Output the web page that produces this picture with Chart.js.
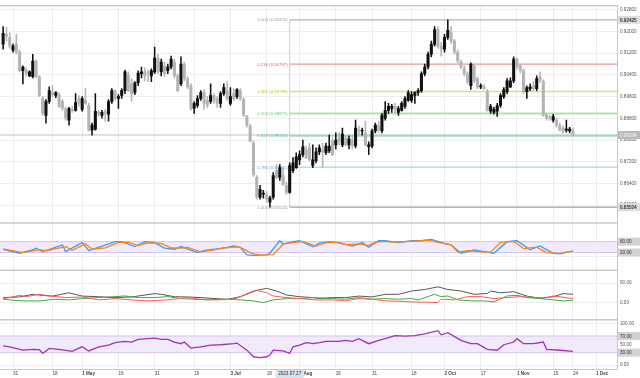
<!DOCTYPE html>
<html>
<head>
<meta charset="utf-8">
<script src="https://cdn.jsdelivr.net/npm/chart.js@4.4.0/dist/chart.umd.min.js"></script>
<style>
  html, body { margin: 0; padding: 0; background: #fff; }
  #wrap { width: 640px; height: 378px; }
</style>
</head>
<body>
<div id="wrap"><canvas id="chart" width="640" height="378"></canvas></div>
<script>
// Daily candles, first one sits 3 trading days before 31 Mar (day 0)
const firstDay = -3;
const opens = [0.9153,0.9189,0.9178,0.9131,0.9153,0.9124,0.9055,0.9058,0.9036,0.9033,0.9091,0.9033,0.8953,0.8891,0.8942,0.8975,0.8964,0.8967,0.8942,0.8916,
  0.8873,0.8913,0.8909,0.8953,0.8913,0.8946,0.8927,0.8836,0.8840,0.8902,0.8891,0.8906,0.8895,0.8942,0.8978,0.8953,0.8964,0.8982,0.9040,0.9007,
  0.8975,0.9011,0.9044,0.9051,0.9047,0.9036,0.9051,0.9102,0.9051,0.9073,0.9055,0.9069,0.9087,0.9036,0.9007,0.9080,0.9026,0.9000,0.8916,0.8927,
  0.8953,0.8975,0.8946,0.8942,0.8964,0.8953,0.8935,0.8971,0.8982,0.8935,0.8971,0.8960,0.8982,0.8949,0.8887,0.8851,0.8789,0.8662,0.8589,0.8600,
  0.8600,0.8571,0.8589,0.8687,0.8662,0.8669,0.8633,0.8607,0.8687,0.8698,0.8727,0.8746,0.8764,0.8771,0.8706,0.8724,0.8756,0.8764,0.8753,0.8760,
  0.8796,0.8782,0.8807,0.8782,0.8807,0.8782,0.8800,0.8778,0.8836,0.8833,0.8826,0.8775,0.8778,0.8833,0.8851,0.8833,0.8880,0.8909,0.8916,0.8924,
  0.8902,0.8909,0.8924,0.8946,0.8946,0.8964,0.8975,0.8982,0.9044,0.9069,0.9116,0.9153,0.9207,0.9146,0.9135,0.9178,0.9196,0.9164,0.9124,0.9087,
  0.9062,0.9044,0.9000,0.9073,0.9026,0.8996,0.8996,0.8978,0.8906,0.8902,0.8906,0.8927,0.8960,0.8978,0.8996,0.9018,0.9098,0.9073,0.9055,0.8978,
  0.8989,0.9000,0.8989,0.9033,0.9015,0.8891,0.8884,0.8873,0.8873,0.8855,0.8844,0.8836,0.8833,0.8836];
const highs = [0.9218,0.9215,0.9196,0.9153,0.9189,0.9131,0.9073,0.9066,0.9055,0.9116,0.9095,0.9036,0.8960,0.8949,0.8996,0.9000,0.8978,0.8975,0.8949,0.8920,
  0.8920,0.8924,0.8971,0.8964,0.8960,0.8989,0.8935,0.8862,0.8971,0.8909,0.8909,0.8913,0.8949,0.8989,0.8986,0.8967,0.8989,0.9058,0.9051,0.9026,
  0.9015,0.9055,0.9069,0.9066,0.9058,0.9062,0.9142,0.9116,0.9098,0.9087,0.9080,0.9109,0.9098,0.9044,0.9106,0.9087,0.9033,0.9007,0.8942,0.8964,
  0.8982,0.8986,0.8960,0.9007,0.8971,0.8960,0.8978,0.9007,0.9015,0.8993,0.8989,0.8989,0.8989,0.8956,0.8891,0.8858,0.8796,0.8669,0.8633,0.8615,
  0.8611,0.8593,0.8680,0.8709,0.8709,0.8698,0.8644,0.8716,0.8735,0.8753,0.8760,0.8800,0.8778,0.8789,0.8782,0.8771,0.8782,0.8789,0.8789,0.8818,
  0.8807,0.8826,0.8826,0.8844,0.8818,0.8815,0.8815,0.8873,0.8851,0.8844,0.8869,0.8793,0.8840,0.8862,0.8869,0.8898,0.8942,0.8935,0.8931,0.8935,
  0.8924,0.8942,0.8960,0.8982,0.8978,0.8978,0.8989,0.9051,0.9080,0.9124,0.9164,0.9218,0.9218,0.9160,0.9189,0.92425,0.9218,0.9171,0.9131,0.9095,
  0.9073,0.9051,0.9084,0.9080,0.9033,0.9007,0.9004,0.8986,0.8931,0.8920,0.8935,0.8971,0.8993,0.9026,0.9029,0.9106,0.9102,0.9080,0.9062,0.9000,
  0.9007,0.9015,0.9036,0.9051,0.9022,0.8898,0.8891,0.8895,0.8880,0.8862,0.8851,0.8873,0.8847,0.8844];
const lows = [0.9135,0.9164,0.9138,0.9124,0.9116,0.9051,0.9007,0.9036,0.9033,0.9029,0.9029,0.8960,0.8891,0.8862,0.8935,0.8960,0.8956,0.8920,0.8909,0.8873,
  0.8855,0.8902,0.8906,0.8924,0.8906,0.8931,0.8833,0.8818,0.8836,0.8887,0.8880,0.8869,0.8869,0.8935,0.8946,0.8916,0.8953,0.8971,0.8978,0.8942,
  0.8967,0.9000,0.9029,0.9018,0.9015,0.9015,0.9044,0.9044,0.9036,0.9033,0.9044,0.9062,0.9029,0.8978,0.9000,0.9018,0.8989,0.8909,0.8898,0.8920,
  0.8946,0.8913,0.8920,0.8935,0.8935,0.8920,0.8920,0.8964,0.8946,0.8927,0.8946,0.8953,0.8946,0.8887,0.8847,0.8793,0.8666,0.8582,0.8582,0.8586,
  0.8571,0.85524,0.8582,0.8658,0.8651,0.8633,0.8600,0.8604,0.8680,0.8695,0.8709,0.8738,0.8731,0.8724,0.8698,0.8716,0.8746,0.8698,0.8746,0.8753,
  0.8742,0.8767,0.8782,0.8775,0.8778,0.8767,0.8767,0.8771,0.8818,0.8818,0.8778,0.8746,0.8771,0.8826,0.8829,0.8826,0.8873,0.8898,0.8902,0.8898,
  0.8891,0.8906,0.8916,0.8942,0.8938,0.8935,0.8964,0.8975,0.9036,0.9062,0.9106,0.9146,0.9138,0.9109,0.9124,0.9171,0.9156,0.9116,0.9084,0.9062,
  0.9036,0.9007,0.8986,0.9011,0.8989,0.8989,0.8986,0.8906,0.8898,0.8895,0.8887,0.8920,0.8953,0.8971,0.8993,0.9011,0.9062,0.9047,0.8971,0.8953,
  0.8982,0.8982,0.8982,0.9011,0.8887,0.8873,0.8873,0.8866,0.8847,0.8833,0.8826,0.8829,0.8826,0.8815];
const closes = [0.9193,0.9182,0.9146,0.9146,0.9124,0.9055,0.9069,0.9044,0.9051,0.9091,0.9033,0.8964,0.8898,0.8942,0.8982,0.8967,0.8975,0.8924,0.8916,0.8880,
  0.8916,0.8909,0.8938,0.8935,0.8953,0.8935,0.8836,0.8855,0.8906,0.8895,0.8902,0.8895,0.8942,0.8982,0.8953,0.8960,0.8982,0.9051,0.8982,0.8971,
  0.9011,0.9047,0.9051,0.9036,0.9044,0.9055,0.9102,0.9055,0.9087,0.9044,0.9069,0.9098,0.9036,0.8982,0.9080,0.9026,0.8996,0.8916,0.8935,0.8953,
  0.8975,0.8935,0.8927,0.8964,0.8946,0.8935,0.8971,0.8993,0.8953,0.8960,0.8953,0.8986,0.8953,0.8891,0.8855,0.8796,0.8673,0.8589,0.8618,0.8604,
  0.8582,0.8586,0.8669,0.8662,0.8698,0.8636,0.8607,0.8706,0.8716,0.8738,0.8746,0.8775,0.8735,0.8727,0.8727,0.8756,0.8771,0.8756,0.8778,0.8778,
  0.8746,0.8800,0.8796,0.8822,0.8782,0.8804,0.8778,0.8844,0.8833,0.8836,0.8782,0.8782,0.8833,0.8855,0.8836,0.8891,0.8909,0.8924,0.8924,0.8913,
  0.8916,0.8935,0.8953,0.8975,0.8967,0.8975,0.8982,0.9044,0.9069,0.9116,0.9153,0.9207,0.9146,0.9135,0.9178,0.9204,0.9164,0.9124,0.9091,0.9069,
  0.9044,0.9015,0.9080,0.9018,0.8996,0.9000,0.8989,0.8909,0.8924,0.8913,0.8927,0.8964,0.8986,0.9018,0.9018,0.9098,0.9069,0.9055,0.8978,0.8993,
  0.8996,0.8989,0.9026,0.9018,0.8891,0.8880,0.8880,0.8887,0.8855,0.8836,0.8833,0.8840,0.8840,0.88184];

// x axis: trading-day index of each date label
const tickDays = [0, 12, 21, 32, 43, 55, 66, 77, 87, 98, 109, 121, 131, 142, 153, 164, 170, 177];
const tickLabels = ['31', '18', '1 May', '16', '31', '16', '3 Jul', '18', '1 Aug', '16', '31', '18', '2 Oct', '17', '1 Nov', '16', '24', '1 Dec'];
const boldLabels = ['1 May', '3 Jul', '1 Aug', '2 Oct', '1 Nov', '1 Dec'];
const priceTicks = [0.928, 0.920, 0.912, 0.904, 0.896, 0.888, 0.880, 0.872, 0.864, 0.856];

// fibonacci retracement drawn from 27 Jul
const fibAnchorDay = 84;
const fibAnchorLabel = '2023.07.27';
const fibRatios = [0, 0.236, 0.382, 0.5, 0.618, 0.786, 1];
const fibPrices = [0.92425, 0.90797, 0.89789, 0.88975, 0.88160, 0.87001, 0.85524];
const lastPrice = 0.88184;

// stochastic (%K blue, %D orange)
const stochKDays = [-3,2,6,7,9,15,16,21,23,26,31,33,37,40,43,46,49,51,56,58,61,65,67,69,71,73,77,78,81,82,85,87,91,93,96,99,103,106,108,111,113,117,121,124,127,131,133,136,140,143,146,150,153,157,160,164,166,169,170];
const stochK = [38,16,35,44,25,62,25,75,31,49,80,80,53,80,75,44,38,53,20,31,38,49,56,49,7,4,7,16,85,67,80,85,52,72,80,75,56,75,49,85,85,75,85,85,93,71,62,16,35,25,16,80,85,35,56,16,13,25,29];
const stochDDays = [-3,3,8,10,16,18,22,24,28,32,35,38,41,45,48,51,53,57,60,64,68,70,72,75,79,82,84,88,92,95,98,101,105,108,110,113,115,119,123,126,129,133,135,138,142,145,148,152,155,159,162,166,168,170];
const stochD = [40,20,36,30,52,32,68,38,46,76,78,58,74,70,46,45,48,24,32,44,52,40,18,6,8,66,72,82,56,74,76,64,68,58,78,82,78,80,84,88,76,62,22,30,24,22,76,82,42,50,20,15,22,26];
const stochBand = [20, 80];

// DMI: ADX grey, +DI green, -DI red
const adxDays = [-3,2,6,9,12,17,21,26,31,36,43,45,49,53,57,61,65,69,73,77,80,83,87,91,93,97,101,105,109,113,117,121,125,129,132,136,140,144,145,148,152,156,160,164,167,170];
const adx = [24,27,39,34,31,46,31,28,24,27,42,39,28,27,24,20,16,28,54,66,54,36,28,24,20,24,24,31,27,39,39,54,61,73,61,54,39,43,54,46,51,31,21,28,42,39];
const plusDays = [-3,-1,3,8,13,17,21,26,31,34,38,43,47,51,55,59,65,69,73,76,79,83,87,91,97,101,105,109,113,117,121,123,128,130,132,135,139,143,146,150,153,156,160,164,167,170];
const plusDI = [16.5,13.5,9,9,16.5,13.5,19.5,24,28.5,31.5,24,24,28.5,19.5,16.5,13.5,16.5,13.5,9,1.5,13.5,19.5,19.5,24,19.5,16.5,24,16.5,19.5,16.5,19.5,13.5,39,28.5,31.5,13.5,9,9,4.5,31.5,34.5,24,19.5,13.5,9,12];
const minusDays = [-3,-1,2,4,8,11,16,21,26,31,36,41,47,53,57,62,67,71,74,77,79,83,87,92,97,101,105,109,113,117,121,125,129,130,134,138,142,146,150,154,158,162,164,170];
const minusDI = [19.5,24,34.5,28.5,39,31.5,24,27,13.5,19.5,13.5,9,13.5,24,16.5,13.5,16.5,39,57,46.5,31.5,24,19.5,13.5,13.5,9,19.5,16.5,9,7.5,4.5,3,1.5,16.5,13.5,28.5,28.5,19.5,24,28.5,24,24,31.5,19.5];

// RSI
const rsiDays = [-3,-1,3,6,8,9,11,14,18,20,21,23,26,29,31,34,36,38,43,45,47,49,51,52,54,57,60,63,67,68,71,73,75,77,78,79,82,84,85,87,89,91,93,95,99,101,103,105,108,111,113,116,119,122,125,129,130,132,136,139,141,144,147,149,152,153,155,158,161,162,166,170];
const rsi = [46,44,36,38,37,28,40,38,33,41,44,34,44,48,54,57,55.5,62,65,62,62,55.5,51.5,55.5,41,44,48,49,51.5,53,36,20,18,20,24,36,34,28,44,48,54,51.5,54,57,57,59.5,57,63.5,51.5,59.5,63.5,71,70,71,75,83,73,78,59.5,51.5,51.5,38,35.7,49,55.5,63.5,51.5,51.5,55.5,38,35.7,33];
const rsiBand = [30, 70];

const FONT = "'Liberation Sans', Arial, sans-serif";
Chart.defaults.font.family = FONT;

const fibLineColors = ['#b4b4b4', '#e89a9a', '#cfe48c', '#aee3ae', '#a0d8c8', '#a9d3ea', '#b4b4b4'];
const fibTextColors = ['#9a9a9a', '#e06262', '#a9c63c', '#6cc66c', '#4db596', '#58abdc', '#9a9a9a'];

const candleDays = opens.map((_, k) => firstDay + k);
const isUp = k => closes[k] >= opens[k];
const candleColor = c => isUp(c.dataIndex) ? '#111111' : '#b4b4b4';
const pts = (days, vals) => days.map((d, j) => ({ x: d, y: vals[j] }));

function line(yAxisID, data, color, width) {
  return { type: 'line', yAxisID, data, borderColor: color, borderWidth: width,
           pointRadius: 0, tension: 0, fill: false, order: 0 };
}

function rightTag(ctx, area, y, text, bg, fg, bold) {
  ctx.fillStyle = bg;
  ctx.fillRect(area.right + 1, y - 4, 22, 8);
  ctx.fillStyle = fg;
  ctx.font = (bold ? 'bold ' : '') + '4.6px ' + FONT;
  ctx.textAlign = 'left';
  ctx.textBaseline = 'middle';
  ctx.fillText(text, area.right + 3, y + 0.5);
}

const overlay = {
  id: 'overlay',
  beforeDatasetsDraw(chart) {
    const { ctx, chartArea: a, scales } = chart;
    const x = scales.x, ym = scales.yMain;
    ctx.save();
    // indicator bands
    [[scales.yStoch, stochBand], [scales.yRsi, rsiBand]].forEach(([s, b]) => {
      const top = s.getPixelForValue(b[1]), bot = s.getPixelForValue(b[0]);
      ctx.fillStyle = '#f1eafb';
      ctx.fillRect(a.left, top, a.right - a.left, bot - top);
      ctx.strokeStyle = '#d5c6f1';
      ctx.lineWidth = 1;
      ctx.beginPath();
      ctx.moveTo(a.left, top); ctx.lineTo(a.right, top);
      ctx.moveTo(a.left, bot); ctx.lineTo(a.right, bot);
      ctx.stroke();
    });
    // last price line
    const yl = ym.getPixelForValue(lastPrice);
    ctx.strokeStyle = '#c4c4c4';
    ctx.lineWidth = 1.2;
    ctx.beginPath(); ctx.moveTo(a.left, yl); ctx.lineTo(a.right, yl); ctx.stroke();
    // fibonacci levels
    const fx = x.getPixelForValue(fibAnchorDay);
    ctx.strokeStyle = '#b9d2de';
    ctx.lineWidth = 1;
    ctx.beginPath();
    ctx.moveTo(fx, ym.getPixelForValue(fibPrices[0]));
    ctx.lineTo(fx, ym.getPixelForValue(fibPrices[fibPrices.length - 1]));
    ctx.stroke();
    ctx.font = '4.3px ' + FONT;
    ctx.textAlign = 'right';
    ctx.textBaseline = 'middle';
    fibRatios.forEach((r, j) => {
      const y = ym.getPixelForValue(fibPrices[j]);
      ctx.strokeStyle = fibLineColors[j];
      ctx.lineWidth = (r === 0.5 || r === 0.618) ? 2 : 1.4;
      ctx.beginPath(); ctx.moveTo(fx, y); ctx.lineTo(a.right, y); ctx.stroke();
      ctx.fillStyle = fibTextColors[j];
      ctx.fillText(r.toFixed(3) + ' (' + fibPrices[j].toFixed(5) + ')', fx - 2, y + 0.3);
    });
    ctx.restore();
  },
  afterDraw(chart) {
    const { ctx, chartArea: a, scales } = chart;
    const ym = scales.yMain;
    ctx.save();
    // pane separators
    ctx.strokeStyle = '#cacaca';
    ctx.lineWidth = 1.5;
    ctx.beginPath();
    [a.top, scales.yStoch.top, scales.yDmi.top, scales.yRsi.top].forEach(y => {
      ctx.moveTo(a.left, y); ctx.lineTo(a.right, y);
    });
    ctx.stroke();
    // right-hand tags
    rightTag(ctx, a, ym.getPixelForValue(fibPrices[0]), fibPrices[0].toFixed(5), '#dcdcdc', '#333', true);
    rightTag(ctx, a, ym.getPixelForValue(fibPrices[6]), fibPrices[6].toFixed(5), '#dcdcdc', '#333', true);
    rightTag(ctx, a, ym.getPixelForValue(lastPrice), lastPrice.toFixed(5), '#b9b9b9', '#f4f4f4', false);
    stochBand.forEach(v => rightTag(ctx, a, scales.yStoch.getPixelForValue(v), v.toFixed(2), '#d2d2d2', '#333', false));
    rsiBand.forEach(v => rightTag(ctx, a, scales.yRsi.getPixelForValue(v), v.toFixed(2), '#d2d2d2', '#333', false));
    // date tag under the fib anchor
    const fx = scales.x.getPixelForValue(fibAnchorDay);
    ctx.fillStyle = '#d3e4ec';
    ctx.fillRect(fx - 14, a.bottom + 1, 28, 8);
    ctx.fillStyle = '#333';
    ctx.font = '4.6px ' + FONT;
    ctx.textAlign = 'center';
    ctx.textBaseline = 'middle';
    ctx.fillText(fibAnchorLabel, fx, a.bottom + 5.2);
    ctx.restore();
  }
};

function yAxis(weight, min, max, ticks, label) {
  return {
    type: 'linear', position: 'right', stack: 'panes', stackWeight: weight,
    min, max,
    grid: { color: '#ededed', drawTicks: false },
    border: { color: '#c8c8c8' },
    ticks: { color: '#555', padding: 3, font: { size: 4.6 }, callback: label },
    afterBuildTicks: s => { s.ticks = ticks.map(v => ({ value: v })); },
    afterFit: s => { s.width = 23; }
  };
}

function xTickFont(c) {
  const v = c && c.tick ? c.tick.value : null;
  const bold = boldLabels.includes(tickLabels[tickDays.indexOf(v)]);
  return { size: 4.6, weight: bold ? 'bold' : 'normal' };
}

new Chart(document.getElementById('chart'), {
  type: 'bar',
  data: {
    datasets: [
      { label: 'wick', yAxisID: 'yMain', data: candleDays.map((d, k) => ({ x: d, y: [lows[k], highs[k]] })),
        backgroundColor: candleColor, barThickness: 0.9, grouped: false, order: 3 },
      { label: 'body', yAxisID: 'yMain', data: candleDays.map((d, k) => ({ x: d, y: [opens[k], closes[k]] })),
        backgroundColor: candleColor, barThickness: 2.4, minBarLength: 0.8, grouped: false, order: 2 },
      line('yStoch', pts(stochDDays, stochD), '#ff8412', 1.3),
      line('yStoch', pts(stochKDays, stochK), '#3a9cf2', 1.3),
      line('yDmi', pts(minusDays, minusDI), '#ff5a5a', 1),
      line('yDmi', pts(plusDays, plusDI), '#43a843', 1),
      line('yDmi', pts(adxDays, adx), '#555555', 1),
      line('yRsi', pts(rsiDays, rsi), '#a032b4', 1.3)
    ]
  },
  options: {
    responsive: false,
    animation: false,
    layout: { padding: { top: 1, left: 0, right: 0, bottom: 0 } },
    plugins: { legend: { display: false }, tooltip: { enabled: false } },
    scales: {
      x: {
        type: 'linear', min: -3.95, max: 183.37, offset: false,
        grid: { color: '#ededed', drawTicks: false, offset: false },
        border: { color: '#c8c8c8' },
        ticks: {
          autoSkip: false, maxRotation: 0, align: 'start', padding: 2, color: '#444',
          font: xTickFont,
          callback: v => tickLabels[tickDays.indexOf(v)]
        },
        afterBuildTicks: s => { s.ticks = tickDays.map(v => ({ value: v })); },
        afterFit: s => { s.height = 9; }
      },
      yMain: yAxis(220, 0.849455, 0.929455, priceTicks, v => v.toFixed(5)),
      yStoch: yAxis(48, -78.18, 183.64, [80, 20, 0], () => ''),
      yDmi: yAxis(50, -76.5, 148.5, [90, 0], v => v.toFixed(2)),
      yRsi: yAxis(50, -9.52, 109.5, [100, 70, 50, 30, 0], v => (v === 70 || v === 30) ? '' : v.toFixed(2))
    }
  },
  plugins: [overlay]
});
</script>
</body>
</html>
